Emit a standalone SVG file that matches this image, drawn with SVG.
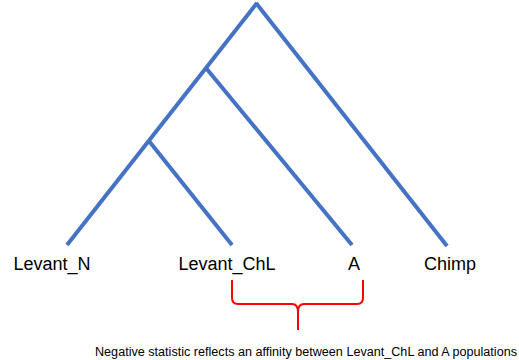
<svg xmlns="http://www.w3.org/2000/svg" width="519" height="360" viewBox="0 0 519 360">
  <style>
    .branch { stroke: #4472C4; stroke-width: 4; fill: none; stroke-linecap: butt; }
    .brace { stroke: #FF0000; stroke-width: 2; fill: none; }
    .leaf { font-family: "Liberation Sans", Arial, sans-serif; font-size: 18px; fill: #000; text-anchor: middle; }
    .note { font-family: "Liberation Sans", Arial, sans-serif; font-size: 12.5px; fill: #000; }
  </style>
  <rect width="519" height="360" fill="#fff"/>
  <g id="connectors">
    <line class="branch" x1="257" y1="3" x2="67" y2="245"/>
    <line class="branch" x1="256" y1="3" x2="447" y2="246"/>
    <line class="branch" x1="206" y1="68" x2="352" y2="245"/>
    <line class="branch" x1="149" y1="141" x2="232" y2="245"/>
  </g>
  <g id="levant_n"><text class="leaf" x="52" y="270">Levant_N</text></g>
  <g id="levant_chl"><text class="leaf" x="227" y="270">Levant_ChL</text></g>
  <g id="a"><text class="leaf" x="354" y="270">A</text></g>
  <g id="chimp"><text class="leaf" x="450" y="270">Chimp</text></g>
  <g id="bracket">
    <path class="brace" d="M232,280 V298 Q232,304 238,304 H292 Q298,304 298,312 V330 M298,312 Q298,304 304,304 H357 Q363,304 363,298 V280"/>
  </g>
  <g id="caption"><text class="note" x="95" y="356" textLength="422" lengthAdjust="spacingAndGlyphs">Negative statistic reflects an affinity between Levant_ChL and A populations</text></g>
</svg>
